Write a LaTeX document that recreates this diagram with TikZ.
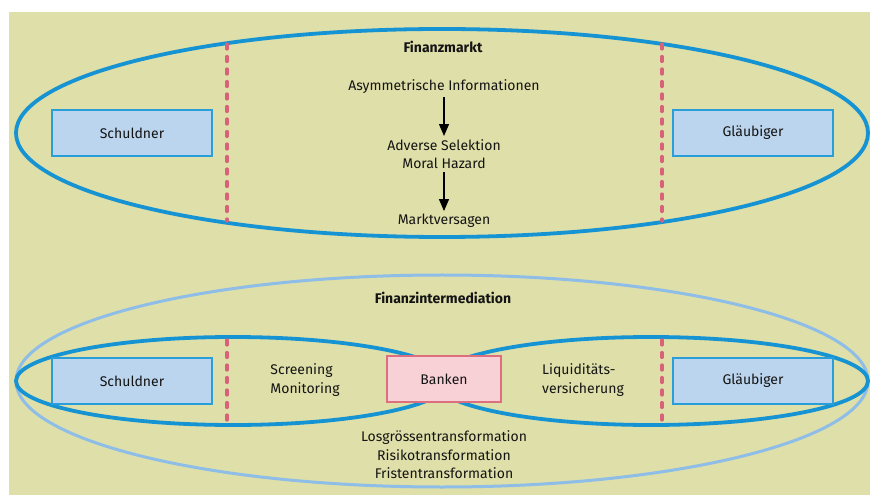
\documentclass[tikz,border=0pt]{standalone}
\usepackage{fontspec}
\setmainfont{Fira Sans}
\usetikzlibrary{arrows.meta}
\definecolor{bgc}{HTML}{DFDFA9}
\definecolor{strongblue}{HTML}{1593D2}
\definecolor{lightblue}{HTML}{8EBDE8}
\definecolor{boxfill}{HTML}{BCD5EE}
\definecolor{boxline}{HTML}{2A9ED8}
\definecolor{pinkfill}{HTML}{F8D1D6}
\definecolor{pinkline}{HTML}{DD6E7E}
\definecolor{dashc}{HTML}{D9627A}
\definecolor{txt}{HTML}{141414}
\begin{document}
\begin{tikzpicture}[x=1bp,y=-1bp,
  every node/.style={font=\fontsize{14bp}{18.5bp}\selectfont, text=txt},
  partybox/.style={draw=boxline, fill=boxfill, line width=1.2bp, minimum width=160bp, minimum height=46bp, inner sep=0pt},
  bankbox/.style={draw=pinkline, fill=pinkfill, line width=1.2bp, minimum width=114bp, minimum height=46bp, inner sep=0pt},
  divider/.style={draw=dashc, line width=3.2bp, line cap=round, dash pattern=on 5bp off 7.5bp},
  mainring/.style={draw=strongblue, line width=3.8bp},
  outerring/.style={draw=lightblue, line width=3bp},
  flow/.style={-{Triangle[length=12bp,width=10bp]}, line width=1.3bp, black},
  plain/.style={inner sep=3bp},
  heading/.style={font=\fontsize{14bp}{18.5bp}\selectfont\bfseries}
]
\useasboundingbox (0,0) rectangle (870,495);
\fill[bgc] (9,12) rectangle (870,495);

% ---------- Finanzmarkt ----------
\draw[mainring] (442,133) ellipse [x radius=426bp, y radius=104bp];
\coordinate (d1t) at (227,44);
\coordinate (d1b) at (227,221);
\coordinate (d2t) at (662,44);
\coordinate (d2b) at (662,221);
\draw[divider] (d1t) -- (d1b);
\draw[divider] (d2t) -- (d2b);
\node[partybox] (schuldnerA) at (132,133) {Schuldner};
\node[partybox] (glaeubigerA) at (753,133) {Gläubiger};
\node[heading] (fm) at (443,47) {Finanzmarkt};
\node[plain] (asym) at (444,87) {Asymmetrische Informationen};
\node[plain, align=center] (adverse) at (444,154) {Adverse Selektion\\Moral Hazard};
\node[plain] (markt) at (444,221) {Marktversagen};
\draw[flow] (asym) -- (adverse);
\draw[flow] (adverse) -- (markt);

% ---------- Finanzintermediation ----------
\draw[outerring] (442,381) ellipse [x radius=426bp, y radius=106bp];
\draw[mainring] (233,381) ellipse [x radius=217bp, y radius=44bp];
\draw[mainring] (651,381) ellipse [x radius=217bp, y radius=44bp];
\coordinate (d3t) at (227,340);
\coordinate (d3b) at (227,423);
\coordinate (d4t) at (662,340);
\coordinate (d4b) at (662,423);
\draw[divider] (d3t) -- (d3b);
\draw[divider] (d4t) -- (d4b);
\node[partybox] (schuldnerB) at (132,381) {Schuldner};
\node[partybox] (glaeubigerB) at (753,381) {Gläubiger};
\node[bankbox] (banken) at (444,379) {Banken};
\node[heading] (fi) at (443,298) {Finanzintermediation};
\node[plain, align=left] (screen) at (305,380) {Screening\\Monitoring};
\node[plain, align=left] (liqui) at (583,380) {Liquiditäts-\\versicherung};
\node[plain, align=center] (trans) at (444,455) {Losgrössentransformation\\Risikotransformation\\Fristentransformation};
\end{tikzpicture}
\end{document}
